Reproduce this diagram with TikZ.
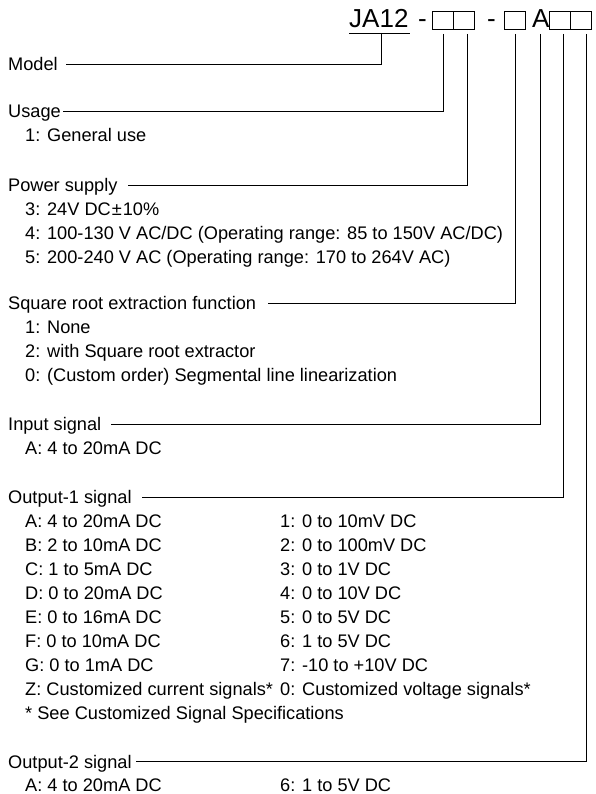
\documentclass[tikz,border=0pt]{standalone}
\usepackage{fontspec}
\setmainfont{Liberation Sans}
\usetikzlibrary{calc}
\begin{document}
\begin{tikzpicture}[x=1pt,y=-1pt,
  lbl/.style={font=\fontsize{18.2}{20}\selectfont, inner sep=0pt, anchor=base west},
  ttl/.style={font=\fontsize{26}{28}\selectfont, inner sep=0pt, anchor=base west},
  sq/.style={draw, line width=0.9pt, minimum width=21pt, minimum height=18pt, inner sep=0pt, anchor=north west},
  conn/.style={line width=0.9pt}]
\useasboundingbox (0,0) rectangle (596,794);
% header
\node[ttl] (ja) at (349,28) {JA12};
\node[ttl] (d1) at (418,28) {-};
\node[sq] (b1) at (432,11) {};
\node[sq] (b2) at (453,11) {};
\node[ttl] (d2) at (487,28) {-};
\node[sq] (b3) at (504,11) {};
\node[ttl] (la) at (532,28) {A};
\node[sq] (b4) at (549,11) {};
\node[sq] (b5) at (570,11) {};
\coordinate (ulL) at (349,33);
\coordinate (ulR) at (410,33);
\coordinate (ulM) at (381,33);
\coordinate (c1) at (443,34);
\coordinate (c2) at (467,34);
\coordinate (c3) at (515,34);
\coordinate (c4) at (540,34);
\coordinate (c5) at (563,34);
\coordinate (c6) at (586,34);
% labels
\node[lbl] (model) at (8,70.5) {Model};
\node[lbl] (usage) at (8,117.5) {Usage};
\node[lbl] (u1) at (25,141.5) {1: General use};
\node[lbl] (power) at (8,191.5) {Power supply};
\node[lbl] (p3) at (25,215.5) {3: 24V DC\kern1pt±\kern1pt10\%};
\node[lbl] (p4) at (25,239.5) {4: 100-130 V AC/DC (Operating range: 85 to 150V AC/DC)};
\node[lbl] (p5) at (25,263.5) {5: 200-240 V AC (Operating range: 170 to 264V AC)};
\node[lbl] (sqrt) at (8,309.5) {Square root extraction function};
\node[lbl] (s1) at (25,333.5) {1: None};
\node[lbl] (s2) at (25,357.5) {2: with Square root extractor};
\node[lbl] (s0) at (25,381.5) {0: (Custom order) Segmental line linearization};
\node[lbl] (input) at (8,430.5) {Input signal};
\node[lbl] (ia) at (25,454.5) {A: 4 to 20mA DC};
\node[lbl] (out1) at (8,503.5) {Output-1 signal};
\node[lbl] (oa) at (25,527.5) {A: 4 to 20mA DC};
\node[lbl] (ob) at (25,551.5) {B: 2 to 10mA DC};
\node[lbl] (oc) at (25,575.5) {C: 1 to 5mA DC};
\node[lbl] (od) at (25,599.5) {D: 0 to 20mA DC};
\node[lbl] (oe) at (25,623.5) {E: 0 to 16mA DC};
\node[lbl] (of) at (25,647.5) {F: 0 to 10mA DC};
\node[lbl] (og) at (25,671.5) {G: 0 to 1mA DC};
\node[lbl] (oz) at (25,695.5) {Z: Customized current signals*};
\node[lbl] (o1) at (280,527.5) {1: 0 to 10mV DC};
\node[lbl] (o2) at (280,551.5) {2: 0 to 100mV DC};
\node[lbl] (o3) at (280,575.5) {3: 0 to 1V DC};
\node[lbl] (o4) at (280,599.5) {4: 0 to 10V DC};
\node[lbl] (o5) at (280,623.5) {5: 0 to 5V DC};
\node[lbl] (o6) at (280,647.5) {6: 1 to 5V DC};
\node[lbl] (o7) at (280,671.5) {7: -10 to +10V DC};
\node[lbl] (o0) at (280,695.5) {0: Customized voltage signals*};
\node[lbl] (onote) at (25,719.5) {* See Customized Signal Specifications};
\node[lbl] (out2) at (8,768) {Output-2 signal};
\node[lbl] (qa) at (25,791) {A: 4 to 20mA DC};
\node[lbl] (q6) at (280,791) {6: 1 to 5V DC};
% connectors
\draw[conn] (ulL) -- (ulR);
\draw[conn] (ulM) |- ($(model.base east)+(8,-6.5)$);
\draw[conn] (c1) |- ($(usage.base east)+(2,-6.5)$);
\draw[conn] (c2) |- ($(power.base east)+(10,-6.5)$);
\draw[conn] (c3) |- ($(sqrt.base east)+(12,-6.5)$);
\draw[conn] (c4) |- ($(input.base east)+(10,-6.5)$);
\draw[conn] (c5) |- ($(out1.base east)+(10,-6.5)$);
\draw[conn] (c6) |- ($(out2.base east)+(4,-6.5)$);
\end{tikzpicture}
\end{document}
